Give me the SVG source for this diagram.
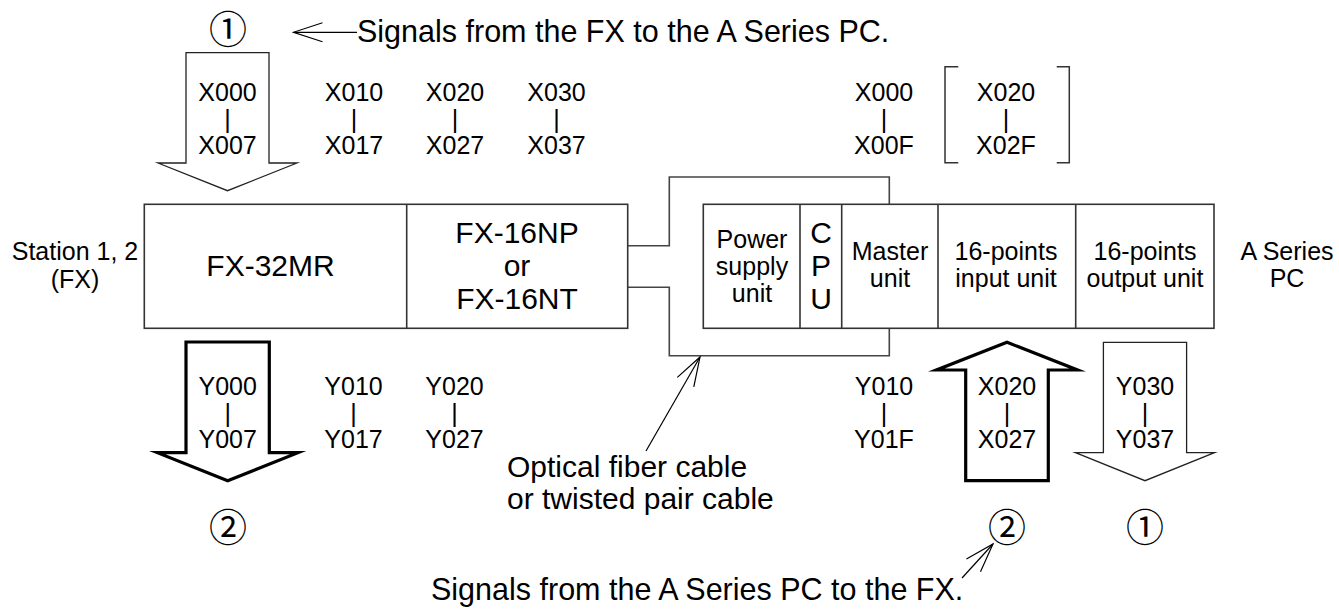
<svg xmlns="http://www.w3.org/2000/svg" width="1339" height="610" viewBox="0 0 1339 610">
<defs>
<style>
text{font-family:"Liberation Sans",Arial,sans-serif;fill:#000}
.big{font-size:30px;text-anchor:middle}
.mid{font-size:25px;text-anchor:middle}
.lab{font-size:25px;text-anchor:middle}
.note{font-size:30.5px}
.circ{font-family:"Noto Sans CJK JP","DejaVu Sans",sans-serif;font-size:38px;text-anchor:middle}
.box{fill:#fff;stroke:#333;stroke-width:1.6}
.div{stroke:#333;stroke-width:1.6}
.thin{fill:#fff;stroke:#222;stroke-width:1.3;stroke-miterlimit:10}
.thick{fill:#fff;stroke:#000;stroke-width:3.2;stroke-miterlimit:10}
.cable{fill:none;stroke:#444;stroke-width:1.6}
.ptr{fill:none;stroke:#000;stroke-width:1.2}
.brk{fill:none;stroke:#333;stroke-width:1.5}
</style>
<marker id="vhead" viewBox="-31 -11 33 22" refX="0" refY="0" markerWidth="33" markerHeight="22" markerUnits="userSpaceOnUse" orient="auto">
<path d="M-29,-9.5 L0,0 L-29,9.5" fill="none" stroke="#000" stroke-width="1.2"/>
</marker>
</defs>
<rect width="1339" height="610" fill="#fff"/>

<g id="connectors">
<path class="cable" d="M627.7,245.7 H669.3 V177 H889.3 V204.3"/>
<path class="cable" d="M627.7,287.3 H669.3 V355.7 H889.3 V328.3"/>
<line class="ptr" x1="357" y1="32.3" x2="293.5" y2="32.3" marker-end="url(#vhead)"/>
<line class="ptr" x1="646" y1="451" x2="700" y2="357" marker-end="url(#vhead)"/>
<line class="ptr" x1="962" y1="578" x2="993" y2="544" marker-end="url(#vhead)"/>
</g>

<g id="fx-station">
<rect class="box" x="144.3" y="204.3" width="483.4" height="124"/>
<line class="div" x1="406.7" y1="204.3" x2="406.7" y2="328.3"/>
<text class="big" x="270.5" y="276">FX-32MR</text>
<text class="big" x="517" y="243">FX-16NP</text>
<text class="big" x="517" y="276">or</text>
<text class="big" x="517" y="309">FX-16NT</text>
</g>
<g id="station-label">
<text class="mid" x="75" y="260">Station 1, 2</text>
<text class="mid" x="75" y="288">(FX)</text>
</g>

<g id="a-series">
<rect class="box" x="703.3" y="204.3" width="510.7" height="124"/>
<line class="div" x1="800" y1="204.3" x2="800" y2="328.3"/>
<line class="div" x1="841.7" y1="204.3" x2="841.7" y2="328.3"/>
<line class="div" x1="938" y1="204.3" x2="938" y2="328.3"/>
<line class="div" x1="1075.7" y1="204.3" x2="1075.7" y2="328.3"/>
<text class="mid" x="752" y="248">Power</text>
<text class="mid" x="752" y="275">supply</text>
<text class="mid" x="752" y="302">unit</text>
<text class="big" x="821" y="243">C</text>
<text class="big" x="821" y="276">P</text>
<text class="big" x="821" y="309">U</text>
<text class="mid" x="890" y="260">Master</text>
<text class="mid" x="890" y="287">unit</text>
<text class="mid" x="1006" y="260">16-points</text>
<text class="mid" x="1006" y="287">input unit</text>
<text class="mid" x="1145" y="260">16-points</text>
<text class="mid" x="1145" y="287">output unit</text>
</g>
<g id="a-series-label">
<text class="mid" x="1287" y="260">A Series</text>
<text class="mid" x="1287" y="287">PC</text>
</g>

<g id="arrow-x000">
<path class="thin" d="M186,52.7 H269 V163 H297 L227.5,190.7 L158,163 H186 Z"/>
<text class="lab" x="227.5" y="101">X000<tspan x="227.5" dy="26.5">|</tspan><tspan x="227.5" dy="26.5">X007</tspan></text>
</g>
<g id="labels-x-top">
<text class="lab" x="354" y="101">X010<tspan x="354" dy="26.5">|</tspan><tspan x="354" dy="26.5">X017</tspan></text>
<text class="lab" x="455" y="101">X020<tspan x="455" dy="26.5">|</tspan><tspan x="455" dy="26.5">X027</tspan></text>
<text class="lab" x="556.5" y="101">X030<tspan x="556.5" dy="26.5">|</tspan><tspan x="556.5" dy="26.5">X037</tspan></text>
<text class="lab" x="884" y="101">X000<tspan x="884" dy="26.5">|</tspan><tspan x="884" dy="26.5">X00F</tspan></text>
<text class="lab" x="1006" y="101">X020<tspan x="1006" dy="26.5">|</tspan><tspan x="1006" dy="26.5">X02F</tspan></text>
<path class="brk" d="M958.3,66.7 H945 V162.7 H958.3"/>
<path class="brk" d="M1056.7,66.7 H1069.3 V162.7 H1056.7"/>
</g>

<g id="arrow-y000">
<path class="thick" d="M186,342 H269.3 V452.7 H298 L227.7,480.7 L157.4,452.7 H186 Z"/>
<text class="lab" x="227.7" y="395">Y000<tspan x="227.7" dy="26.5">|</tspan><tspan x="227.7" dy="26.5">Y007</tspan></text>
</g>
<g id="labels-y-bottom">
<text class="lab" x="353.5" y="395">Y010<tspan x="353.5" dy="26.5">|</tspan><tspan x="353.5" dy="26.5">Y017</tspan></text>
<text class="lab" x="454.5" y="395">Y020<tspan x="454.5" dy="26.5">|</tspan><tspan x="454.5" dy="26.5">Y027</tspan></text>
<text class="lab" x="884" y="395">Y010<tspan x="884" dy="26.5">|</tspan><tspan x="884" dy="26.5">Y01F</tspan></text>
</g>

<g id="arrow-x020">
<path class="thick" d="M965.7,480.7 V370 H936.5 L1007,342.3 L1077.5,370 H1048.3 V480.7 Z"/>
<text class="lab" x="1007" y="395">X020<tspan x="1007" dy="26.5">|</tspan><tspan x="1007" dy="26.5">X027</tspan></text>
</g>

<g id="arrow-y030">
<path class="thin" d="M1103.4,342.3 H1186.6 V452.7 H1214.5 L1145,480.7 L1075.5,452.7 H1103.4 Z"/>
<text class="lab" x="1145" y="395">Y030<tspan x="1145" dy="26.5">|</tspan><tspan x="1145" dy="26.5">Y037</tspan></text>
</g>

<g id="circled">
<text class="circ" x="228" y="43">①</text>
<text class="circ" x="228" y="541">②</text>
<text class="circ" x="1007" y="541">②</text>
<text class="circ" x="1145" y="541">①</text>
</g>

<g id="notes">
<text class="note" x="357" y="42">Signals from the FX to the A Series PC.</text>
<text class="note" x="507" y="476.5" style="font-size:30px">Optical fiber cable</text>
<text class="note" x="507" y="509" style="font-size:30px">or twisted pair cable</text>
<text class="note" x="431" y="600">Signals from the A Series PC to the FX.</text>
</g>
</svg>
